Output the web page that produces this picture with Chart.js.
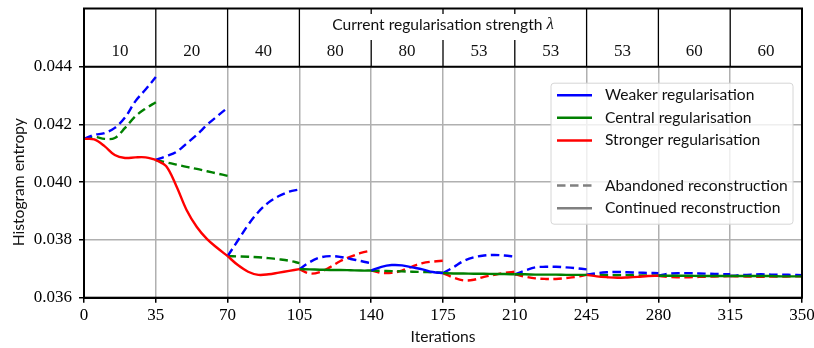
<!DOCTYPE html>
<html>
<head>
<meta charset="utf-8">
<script src="https://cdn.jsdelivr.net/npm/chart.js@4.4.1/dist/chart.umd.min.js"></script>
<style>
body { margin: 0; background: #fff; }
canvas { display: block; }
</style>
</head>
<body>
<canvas id="entropyChart" width="814" height="348"></canvas>
<script>
// each trial segment lasts 35 iterations
var segmentLength = 35;
var segmentStarts = [0, 35, 70, 105, 140, 175, 210, 245, 280, 315];
var stepOffsets = [0, 5, 10, 15, 20, 25, 30, 35];
var lambdaLabels = ['10', '20', '40', '80', '80', '53', '53', '53', '60', '60'];
// the trial that was kept going in each segment
var chosenRun = ['stronger', 'stronger', 'stronger', 'central', 'weaker', 'central', 'central', 'stronger', 'central', 'central'];

var weakerRuns = [
    [0.04150, 0.04164, 0.04170, 0.04188, 0.04224, 0.04280, 0.04321, 0.04364],
    [0.04077, 0.04090, 0.04105, 0.04134, 0.04164, 0.04199, 0.04229, 0.04258],
    [0.03744, 0.03798, 0.03852, 0.03897, 0.03930, 0.03952, 0.03967, 0.03975],
    [0.03699, 0.03723, 0.03739, 0.03744, 0.03741, 0.03734, 0.03727, 0.03719],
    [0.03694, 0.03707, 0.03713, 0.03712, 0.03705, 0.03698, 0.03689, 0.03685],
    [0.03685, 0.03705, 0.03727, 0.03740, 0.03746, 0.03748, 0.03746, 0.03742],
    [0.03681, 0.03694, 0.03705, 0.03707, 0.03707, 0.03705, 0.03702, 0.03698],
    [0.03679, 0.03685, 0.03688, 0.03689, 0.03688, 0.03687, 0.03686, 0.03685],
    [0.03676, 0.03683, 0.03685, 0.03685, 0.03684, 0.03683, 0.03682, 0.03681],
    [0.03675, 0.03678, 0.03680, 0.03681, 0.03680, 0.03680, 0.03679, 0.03678]
];
var centralRuns = [
    [0.04150, 0.04157, 0.04150, 0.04153, 0.04188, 0.04228, 0.04255, 0.04277],
    [0.04077, 0.04069, 0.04061, 0.04053, 0.04046, 0.04038, 0.04030, 0.04022],
    [0.03744, 0.03743, 0.03742, 0.03740, 0.03737, 0.03733, 0.03728, 0.03720],
    [0.03699, 0.03698, 0.03697, 0.03696, 0.03696, 0.03695, 0.03694, 0.03694],
    [0.03694, 0.03693, 0.03692, 0.03691, 0.03690, 0.03689, 0.03688, 0.03687],
    [0.03685, 0.03684, 0.03684, 0.03683, 0.03683, 0.03682, 0.03682, 0.03681],
    [0.03681, 0.03681, 0.03680, 0.03680, 0.03680, 0.03679, 0.03679, 0.03679],
    [0.03679, 0.03679, 0.03678, 0.03678, 0.03678, 0.03677, 0.03677, 0.03677],
    [0.03676, 0.03676, 0.03676, 0.03676, 0.03675, 0.03675, 0.03675, 0.03675],
    [0.03675, 0.03675, 0.03675, 0.03675, 0.03675, 0.03674, 0.03674, 0.03674]
];
var strongerRuns = [
    [0.04150, 0.04148, 0.04125, 0.04094, 0.04084, 0.04086, 0.04086, 0.04077],
    [0.04077, 0.04056, 0.03987, 0.03904, 0.03845, 0.03803, 0.03772, 0.03744],
    [0.03744, 0.03713, 0.03690, 0.03679, 0.03681, 0.03687, 0.03693, 0.03699],
    [0.03699, 0.03684, 0.03689, 0.03706, 0.03727, 0.03742, 0.03755, 0.03763],
    [0.03694, 0.03686, 0.03686, 0.03694, 0.03708, 0.03720, 0.03725, 0.03728],
    [0.03685, 0.03670, 0.03660, 0.03662, 0.03672, 0.03679, 0.03686, 0.03690],
    [0.03681, 0.03673, 0.03667, 0.03665, 0.03665, 0.03668, 0.03672, 0.03679],
    [0.03679, 0.03674, 0.03671, 0.03669, 0.03670, 0.03672, 0.03675, 0.03676],
    [0.03676, 0.03672, 0.03671, 0.03671, 0.03672, 0.03673, 0.03674, 0.03675],
    [0.03675, 0.03674, 0.03673, 0.03672, 0.03673, 0.03673, 0.03674, 0.03674]
];

var serif = "'Liberation Serif', 'DejaVu Serif', serif";
var sans = "Lato, 'DejaVu Sans', sans-serif";
var dashPattern = [8.5, 4.5];

var runColours = { weaker: '#0000ff', central: '#008000', stronger: '#ff0000' };
var runTables = { weaker: weakerRuns, central: centralRuns, stronger: strongerRuns };

var datasets = [];
segmentStarts.forEach(function (start, i) {
    ['weaker', 'central', 'stronger'].forEach(function (kind) {
        var kept = chosenRun[i] === kind;
        datasets.push({
            data: stepOffsets.map(function (off, j) {
                return { x: start + off, y: runTables[kind][i][j] };
            }),
            borderColor: runColours[kind],
            borderWidth: 2.4,
            borderDash: kept ? [] : dashPattern,
            pointRadius: 0,
            fill: false,
            tension: 0.35,
            order: kept ? 0 : 1
        });
    });
});

var legendEntries = [
    { label: 'Weaker regularisation', colour: '#0000ff', dash: [] },
    { label: 'Central regularisation', colour: '#008000', dash: [] },
    { label: 'Stronger regularisation', colour: '#ff0000', dash: [] },
    null,
    { label: 'Abandoned reconstruction', colour: '#808080', dash: dashPattern },
    { label: 'Continued reconstruction', colour: '#808080', dash: [] }
];

// legend box inside the plot, top right
var boxLegend = {
    id: 'boxLegend',
    afterDraw: function (chart) {
        var ctx = chart.ctx, area = chart.chartArea;
        var w = 242, h = 141;
        var x0 = area.right - 9 - w, y0 = area.top + 16.5;
        ctx.save();
        ctx.beginPath();
        ctx.roundRect(x0, y0, w, h, 3);
        ctx.fillStyle = 'rgba(255,255,255,0.8)';
        ctx.fill();
        ctx.strokeStyle = '#d6d6d6';
        ctx.lineWidth = 1;
        ctx.stroke();
        ctx.font = '15.6px ' + sans;
        ctx.textBaseline = 'middle';
        ctx.fillStyle = '#111';
        legendEntries.forEach(function (e, i) {
            if (!e) return;
            var cy = y0 + 12 + i * 22.6;
            ctx.beginPath();
            ctx.setLineDash(e.dash);
            ctx.strokeStyle = e.colour;
            ctx.lineWidth = 2.5;
            ctx.moveTo(x0 + 6, cy);
            ctx.lineTo(x0 + 41, cy);
            ctx.stroke();
            ctx.setLineDash([]);
            ctx.fillText(e.label, x0 + 54, cy);
        });
        ctx.restore();
    }
};

// band above the plot with the current lambda of each segment
var lambdaBand = {
    id: 'lambdaBand',
    afterDraw: function (chart) {
        var ctx = chart.ctx, area = chart.chartArea, xs = chart.scales.x;
        var bandTop = 8.5;
        ctx.save();
        ctx.strokeStyle = '#000';
        ctx.lineWidth = 1.3;
        segmentStarts.forEach(function (s, i) {
            if (i === 0) return;
            var px = xs.getPixelForValue(s);
            ctx.beginPath();
            ctx.moveTo(px, bandTop);
            ctx.lineTo(px, area.top);
            ctx.stroke();
        });

        // title with a white box behind it
        var mid = xs.getPixelForValue((segmentStarts[0] + segmentStarts[segmentStarts.length - 1] + segmentLength) / 2);
        var words = 'Current regularisation strength ';
        ctx.font = '15.6px ' + sans;
        var w1 = ctx.measureText(words).width;
        ctx.font = 'italic 17px ' + serif;
        var w2 = ctx.measureText('\u03bb').width;
        var tx = mid - (w1 + w2) / 2;
        ctx.fillStyle = '#fff';
        ctx.fillRect(tx - 7, 14, w1 + w2 + 14, 26);
        ctx.fillStyle = '#111';
        ctx.textBaseline = 'middle';
        ctx.textAlign = 'left';
        ctx.font = '15.6px ' + sans;
        ctx.fillText(words, tx, 25);
        ctx.font = 'italic 17px ' + serif;
        ctx.fillText('\u03bb', tx + w1, 25);

        ctx.font = '17px ' + serif;
        ctx.textAlign = 'center';
        segmentStarts.forEach(function (s, i) {
            ctx.fillText(lambdaLabels[i], xs.getPixelForValue(s + segmentLength / 2), 51.5);
        });

        ctx.lineWidth = 2;
        ctx.strokeRect(area.left, bandTop, area.right - area.left, area.bottom - bandTop);
        ctx.beginPath();
        ctx.moveTo(area.left, area.top);
        ctx.lineTo(area.right, area.top);
        ctx.stroke();
        ctx.restore();
    }
};

new Chart(document.getElementById('entropyChart'), {
    type: 'line',
    data: { datasets: datasets },
    options: {
        responsive: false,
        animation: false,
        events: [],
        layout: { padding: { top: 66.7, right: 12, left: 0, bottom: 0 } },
        plugins: { legend: { display: false }, tooltip: { enabled: false } },
        scales: {
            x: {
                type: 'linear',
                min: 0,
                max: 350,
                afterFit: function (s) { s.height = 50.3; s.paddingLeft = 0; s.paddingRight = 0; },
                ticks: { stepSize: 35, color: '#000', padding: 3, font: { family: serif, size: 17 } },
                grid: { color: '#b0b0b0', lineWidth: 1.5, tickColor: '#000', tickLength: 5, tickWidth: 1.5 },
                border: { color: '#000', width: 2 },
                title: { display: true, text: 'Iterations', color: '#111', padding: { top: 0, bottom: 2 }, font: { family: sans, size: 15.6 } }
            },
            y: {
                min: 0.036,
                max: 0.044,
                afterFit: function (s) { s.width = 84; s.paddingTop = 0; s.paddingBottom = 0; },
                ticks: {
                    stepSize: 0.002,
                    color: '#000',
                    padding: 7,
                    font: { family: serif, size: 17 },
                    callback: function (v) { return v.toFixed(3); }
                },
                grid: { color: '#b0b0b0', lineWidth: 1.5, tickColor: '#000', tickLength: 5, tickWidth: 1.5 },
                border: { color: '#000', width: 2 },
                title: { display: true, text: 'Histogram entropy', color: '#111', padding: { top: 9.5, bottom: 0 }, font: { family: sans, size: 15.6 } }
            }
        }
    },
    plugins: [boxLegend, lambdaBand]
});
</script>
</body>
</html>
